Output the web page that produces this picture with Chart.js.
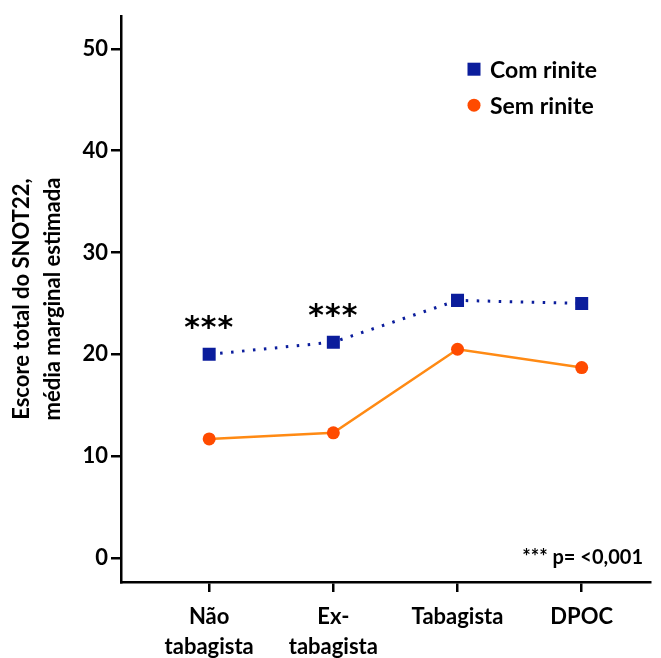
<!DOCTYPE html>
<html>
<head>
<meta charset="utf-8">
<script src="https://cdn.jsdelivr.net/npm/chart.js@4.4.1/dist/chart.umd.min.js"></script>
<style>
  html, body { margin: 0; padding: 0; background: #fff; }
  #wrap { width: 661px; height: 658px; }
</style>
</head>
<body>
<div id="wrap"><canvas id="chart" width="661" height="658"></canvas></div>
<script>
  const categories = [['Não', 'tabagista'], ['Ex-', 'tabagista'], ['Tabagista'], ['DPOC']];
  const comRinite = [20.0, 21.2, 25.3, 25.0];
  const semRinite = [11.7, 12.3, 20.5, 18.7];
  const yTicks = [0, 10, 20, 30, 40, 50];
  const starredIdx = [0, 1];
  const pNote = '*** p= <0,001';
  const yTitle = ['Escore total do SNOT22,', 'média marginal estimada'];

  const BLUE = '#0b1d9c';
  const ORANGE_FILL = '#ff4b00';
  const ORANGE_LINE = '#ff8a14';
  const FONT = 'Lato, "Open Sans", sans-serif';

  function toPoints(vals) {
    return vals.map((v, i) => ({ x: i, y: v }));
  }

  // asterisks, p-value note and legend drawn on the canvas
  const extras = {
    id: 'extras',
    afterDatasetsDraw(chart) {
      const ctx = chart.ctx;
      const xs = chart.scales.x, ys = chart.scales.y;
      const area = chart.chartArea;
      ctx.save();
      ctx.fillStyle = '#000';
      ctx.textAlign = 'center';
      ctx.textBaseline = 'middle';
      ctx.font = 'bold 30px "DejaVu Sans", sans-serif';
      ctx.letterSpacing = '1px';
      starredIdx.forEach(i => {
        const px = xs.getPixelForValue(i);
        const py = ys.getPixelForValue(comRinite[i]) - 25;
        ctx.fillText('***', px, py);
      });
      ctx.letterSpacing = '0px';

      ctx.font = 'bold 20px ' + FONT;
      ctx.textAlign = 'right';
      ctx.textBaseline = 'alphabetic';
      ctx.fillText(pNote, area.right - 7, area.bottom - 18);

      // legend
      const lx = area.right - 176;
      ctx.font = 'bold 23px ' + FONT;
      ctx.textAlign = 'left';
      ctx.textBaseline = 'middle';
      chart.data.datasets.forEach((ds, k) => {
        const ly = area.top + 53 + k * 36;
        ctx.fillStyle = ds.pointBackgroundColor;
        if (ds.pointStyle === 'rect') {
          ctx.fillRect(lx - 6.5, ly - 6.5, 13, 13);
        } else {
          ctx.beginPath();
          ctx.arc(lx, ly, 6.5, 0, Math.PI * 2);
          ctx.fill();
        }
        ctx.fillStyle = '#000';
        ctx.fillText(ds.label, lx + 16, ly + 1);
      });
      ctx.restore();
    }
  };

  new Chart(document.getElementById('chart'), {
    type: 'line',
    data: {
      datasets: [
        {
          label: 'Com rinite',
          data: toPoints(comRinite),
          borderColor: BLUE,
          borderWidth: 3,
          borderDash: [2.5, 8.5],
          pointStyle: 'rect',
          pointRadius: 9.2,
          pointBackgroundColor: BLUE,
          pointBorderWidth: 0,
          tension: 0
        },
        {
          label: 'Sem rinite',
          data: toPoints(semRinite),
          borderColor: ORANGE_LINE,
          borderWidth: 2.5,
          pointStyle: 'circle',
          pointRadius: 6.5,
          pointBackgroundColor: ORANGE_FILL,
          pointBorderWidth: 0,
          tension: 0
        }
      ]
    },
    options: {
      responsive: false,
      animation: false,
      devicePixelRatio: 1,
      layout: { padding: { top: 13, right: 11, left: 0, bottom: 0 } },
      plugins: { legend: { display: false }, tooltip: { enabled: false } },
      scales: {
        x: {
          type: 'linear',
          min: -0.71,
          max: 3.55,
          afterBuildTicks(scale) { scale.ticks = categories.map((c, i) => ({ value: i })); },
          afterFit(scale) { scale.height = 76; },
          grid: { drawOnChartArea: false, drawTicks: true, tickLength: 10, color: '#000', lineWidth: 2.5 },
          border: { color: '#000', width: 2.5 },
          ticks: {
            color: '#000',
            padding: 10,
            maxRotation: 0,
            autoSkip: false,
            font: { family: FONT, size: 22, weight: 'bold', lineHeight: 1.36 },
            callback: (v) => categories[v]
          }
        },
        y: {
          min: -2.35,
          max: 53.2,
          afterBuildTicks(scale) { scale.ticks = yTicks.map(v => ({ value: v })); },
          afterFit(scale) { scale.width = 121; },
          grid: { drawOnChartArea: false, drawTicks: true, tickLength: 10, color: '#000', lineWidth: 2.5 },
          border: { color: '#000', width: 2.5 },
          title: {
            display: true,
            text: yTitle,
            color: '#000',
            font: { family: FONT, size: 22, weight: 'bold', lineHeight: 1.42 },
            padding: { top: 6, bottom: 0 }
          },
          ticks: {
            color: '#000',
            padding: 3,
            font: { family: FONT, size: 22, weight: 'bold' }
          }
        }
      }
    },
    plugins: [extras]
  });
</script>
</body>
</html>
